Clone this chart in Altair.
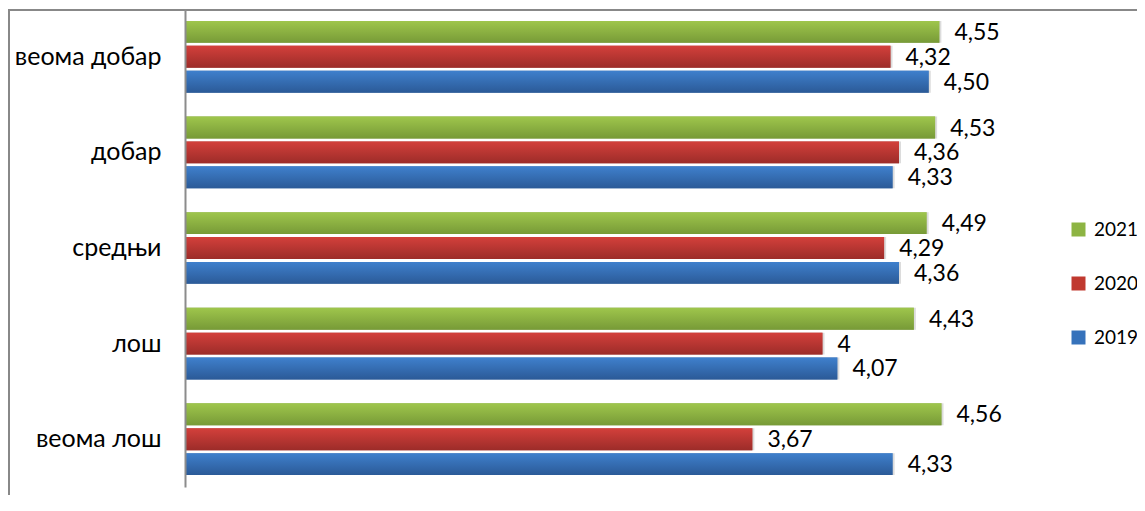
import altair as alt
import pandas as pd

categories = ["веома добар", "добар", "средњи", "лош", "веома лош"]
years = ["2021", "2020", "2019"]
values_2021 = [4.55, 4.53, 4.49, 4.43, 4.56]
values_2020 = [4.32, 4.36, 4.29, 4.00, 3.67]
values_2019 = [4.50, 4.33, 4.36, 4.07, 4.33]
labels_2021 = ["4,55", "4,53", "4,49", "4,43", "4,56"]
labels_2020 = ["4,32", "4,36", "4,29", "4", "3,67"]
labels_2019 = ["4,50", "4,33", "4,36", "4,07", "4,33"]
title_text = "на материјални положај испитаника"

series_values = {"2021": values_2021, "2020": values_2020, "2019": values_2019}
series_labels = {"2021": labels_2021, "2020": labels_2020, "2019": labels_2019}
rows = []
for yr in years:
    for c, v, l in zip(categories, series_values[yr], series_labels[yr]):
        rows.append({"category": c, "year": yr, "value": v, "label": l})
df = pd.DataFrame(rows)

flat = {"2021": "#8db443", "2020": "#c0392f", "2019": "#3672bb"}
grad = {
    "2021": ("#9fc64c", "#779a37"),
    "2020": ("#d3403b", "#9c2c29"),
    "2019": ("#3f80cd", "#2b5a97"),
}

FONT = "Lato"
W, H = 850, 478

x_enc = alt.X("value:Q", scale=alt.Scale(domain=[1, 5], nice=False, zero=False), axis=None)
y_enc = alt.Y(
    "category:N",
    sort=categories,
    scale=alt.Scale(paddingInner=0.25, paddingOuter=0.125),
    axis=alt.Axis(
        title=None, ticks=False, labelPadding=24, labelFontSize=25, labelFont=FONT,
        labelColor="#000000", domainColor="#8c8c8c", domainWidth=2, zindex=1,
        labelLimit=300, grid=False,
    ),
)
yoff = alt.YOffset("year:N", sort=years, scale=alt.Scale(paddingInner=0.12, paddingOuter=0))

base = alt.Chart(df)

legend_layer = base.mark_bar().encode(
    x=x_enc,
    x2=alt.datum(1),
    y=y_enc,
    yOffset=yoff,
    color=alt.Color(
        "year:N",
        sort=years,
        scale=alt.Scale(domain=years, range=[flat[y] for y in years]),
        legend=alt.Legend(
            title=None, orient="none", legendX=884, legendY=211, symbolType="square",
            symbolSize=196, symbolStrokeWidth=0, labelFontSize=19, labelFont=FONT,
            labelColor="#000000", rowPadding=34, labelOffset=6, padding=0,
        ),
    ),
)

shadow = base.mark_bar(color="#c4c4c4", opacity=0.6, yOffset=3, xOffset=2).encode(
    x=x_enc, x2=alt.datum(1), y=y_enc, yOffset=yoff
)

grad_layers = []
for yr in years:
    top, bot = grad[yr]
    g = alt.Gradient(
        gradient="linear",
        stops=[alt.GradientStop(color=top, offset=0), alt.GradientStop(color=bot, offset=1)],
        x1=0, x2=0, y1=0, y2=1,
    )
    grad_layers.append(
        base.transform_filter(alt.datum.year == yr)
        .mark_bar(color=g)
        .encode(x=x_enc, x2=alt.datum(1), y=y_enc, yOffset=yoff)
    )

text = base.mark_text(align="left", baseline="middle", dx=15, dy=1, fontSize=23, font=FONT, color="#000000").encode(
    x=x_enc, y=y_enc, yOffset=yoff, text="label:N"
)

frame = alt.Chart(pd.DataFrame({"k": [0]})).mark_rect(
    fill=None, stroke="#888888", strokeWidth=2
).encode(x=alt.value(-176), x2=alt.value(W + 140), y=alt.value(1), y2=alt.value(H + 60))

title = alt.Chart(pd.DataFrame({"t": [title_text]})).mark_text(
    fontSize=24, fontWeight="bold", font=FONT, baseline="alphabetic", align="center", color="#000000"
).encode(text="t:N", x=alt.value(400), y=alt.value(-8))

chart = (
    alt.layer(frame, legend_layer, shadow, *grad_layers, text, title)
    .properties(
        width=W, height=H,
        autosize=alt.AutoSizeParams(type="none"),
        padding={"left": 177, "top": 1, "right": 102, "bottom": 8},
    )
    .configure_view(stroke=None)
)

chart.save("out.html", embed_options={"renderer": "svg", "actions": False})
